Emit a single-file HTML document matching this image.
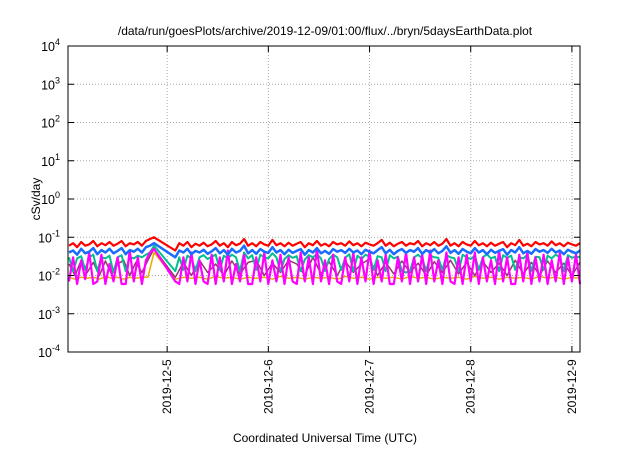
<!DOCTYPE html>
<html><head><meta charset="utf-8"><style>
body{margin:0;background:#fff}
svg{font-family:"Liberation Sans",sans-serif}
</style></head><body>
<svg id="c" width="640" height="448" xmlns="http://www.w3.org/2000/svg">
<text x="325" y="35" font-size="12" text-anchor="middle">/data/run/goesPlots/archive/2019-12-09/01:00/flux/../bryn/5daysEarthData.plot</text>
<text x="325" y="442" font-size="12" text-anchor="middle">Coordinated Universal Time (UTC)</text>
<text transform="translate(40,199) rotate(-90)" font-size="12" text-anchor="middle">cSv/day</text>
<g id="grid"></g>
<g id="series"></g>
<rect x="68" y="46" width="512" height="306" fill="none" stroke="#000" stroke-width="1"/>
<g id="axes"></g>
</svg>
<script>
const timesCoarse=[4.03,4.09,4.15,4.21,4.27,4.33,4.39,4.45,4.51,4.57,4.63,4.69,4.75,4.81,4.87,
5.08,5.16,5.24,5.32,5.40,5.48,5.56,5.64,5.72,5.80,5.88,5.96,6.04,6.12,6.20,6.28,6.36,6.44,6.52,6.60,6.68,6.76,6.84,6.92,7.00,7.08,7.16,7.24,7.32,7.40,7.48,7.56,7.64,7.72,7.80,7.88,7.96,8.04,8.12,8.20,8.28,8.36,8.44,8.52,8.60,8.68,8.76,8.84,8.92,9.00,9.08];
const timesDense=[4.03,4.07,4.11,4.15,4.19,4.23,4.27,4.31,4.35,4.39,4.43,4.47,4.51,4.55,4.59,4.63,4.67,4.71,4.75,4.79,4.83,4.87,
5.08,5.12,5.16,5.20,5.24,5.28,5.32,5.36,5.40,5.44,5.48,5.52,5.56,5.60,5.64,5.68,5.72,5.76,5.80,5.84,5.88,5.92,5.96,6.00,
6.04,6.08,6.12,6.16,6.20,6.24,6.28,6.32,6.36,6.40,6.44,6.48,6.52,6.56,6.60,6.64,6.68,6.72,6.76,6.80,6.84,6.88,6.92,6.96,7.00,
7.04,7.08,7.12,7.16,7.20,7.24,7.28,7.32,7.36,7.40,7.44,7.48,7.52,7.56,7.60,7.64,7.68,7.72,7.76,7.80,7.84,7.88,7.92,7.96,8.00,
8.04,8.08,8.12,8.16,8.20,8.24,8.28,8.32,8.36,8.40,8.44,8.48,8.52,8.56,8.60,8.64,8.68,8.72,8.76,8.80,8.84,8.88,8.92,8.96,9.00,9.04,9.08];
const red=[.06,.07,.055,.075,.06,.065,.08,.058,.07,.062,.075,.06,.068,.08,.058,.07,.065,.075,.06,.08,.09,.1,
.045,.07,.06,.075,.055,.068,.06,.072,.058,.065,
.08,.06,.07,.055,.075,.062,.068,.09,.06,.07,
.058,.075,.065,.06,.085,.062,.07,.058,.072,.06,
.068,.075,.055,.07,.062,.08,.06,.068,.058,.075,
.065,.07,.06,.078,.062,.07,.058,.072,.065,.06,
.07,.085,.06,.072,.058,.068,.075,.06,.07,.065,
.08,.058,.07,.062,.075,.06,.068,.09,.06,.07,
.058,.075,.065,.06,.08,.062,.07,.058,.072,.06,
.068,.075,.055,.07,.062,.085,.06,.068,.058,.075,
.065,.07,.06,.078,.062,.07,.058,.072,.065,.06,
.07];
const blue=[.04,.045,.035,.05,.038,.042,.052,.036,.046,.04,.05,.038,.044,.052,.036,.046,.042,.05,.04,.055,.06,.07,
.03,.045,.04,.05,.036,.044,.04,.047,.037,.043,
.052,.038,.046,.035,.05,.04,.044,.06,.038,.046,
.037,.049,.042,.039,.055,.04,.046,.036,.047,.039,
.044,.049,.035,.046,.04,.052,.038,.044,.037,.049,
.042,.046,.039,.05,.04,.045,.036,.047,.042,.038,
.046,.055,.038,.047,.036,.044,.049,.039,.046,.042,
.052,.037,.046,.04,.049,.038,.044,.058,.039,.046,
.037,.049,.042,.038,.052,.04,.046,.036,.047,.039,
.044,.049,.035,.046,.04,.055,.038,.044,.037,.049,
.042,.046,.039,.05,.04,.045,.036,.047,.042,.038,
.045];
const teal=[.03,.013,.028,.032,.014,.03,.035,.013,.03,.028,.033,.012,.03,.034,.013,.03,.028,.033,.03,.035,.04,.06,
.013,.03,.014,.033,.028,.013,.03,.034,.027,.031,
.035,.014,.033,.028,.035,.03,.013,.04,.028,.034,
.014,.035,.03,.028,.038,.03,.013,.027,.034,.029,
.032,.013,.026,.034,.03,.036,.028,.013,.027,.035,
.03,.014,.029,.036,.013,.033,.027,.035,.031,.014,
.032,.03,.013,.034,.028,.031,.013,.012,.013,.03,
.035,.028,.013,.033,.03,.029,.014,.034,.03,.028,
.013,.035,.03,.027,.033,.014,.03,.036,.028,.031,
.013,.034,.029,.033,.014,.03,.028,.035,.013,.031,
.03,.014,.033,.028,.035,.03,.013,.034,.029,.031,
.03];
const magenta=[.007,.03,.006,.025,.008,.04,.006,.007,.035,.006,.02,.007,.03,.006,.006,.045,.007,.03,.006,.025,.04,.05,
.007,.006,.03,.007,.04,.006,.025,.007,.006,.035,
.006,.03,.007,.045,.006,.02,.007,.035,.006,.006,
.03,.007,.04,.006,.025,.007,.035,.006,.03,.007,
.006,.04,.007,.03,.006,.05,.007,.025,.006,.035,
.007,.006,.03,.007,.04,.006,.03,.007,.045,.006,
.025,.007,.035,.006,.006,.03,.007,.04,.006,.03,
.007,.035,.006,.045,.007,.025,.006,.04,.007,.006,
.03,.006,.035,.007,.04,.006,.03,.007,.025,.006,
.045,.007,.03,.006,.006,.035,.007,.04,.006,.03,
.007,.035,.006,.025,.007,.04,.006,.03,.007,.035,
.006];
const purple=[.02,.01,.025,.012,.022,.01,.024,.011,.02,.025,.01,.022,.012,.025,.05,
.009,.022,.01,.025,.012,.02,.01,.024,.011,.022,.025,.01,.021,.012,.025,.02,.01,.03,.011,.023,.01,.024,.012,.02,.027,.01,.022,.011,.024,.012,.021,.01,.023,.012,.025,.011,.022,.01,.023,.012,.021,.01,.025,.011,.022,.01,.024,.012,.021,.01,.022];
const yellow=[.009,.008,.009,.0085,.009,.008,.0095,.0085,.009,.008,.009,.0085,.009,.009,.04,
.008,.009,.0085,.009,.008,.0095,.0085,.009,.008,.009,.0085,.009,.008,.0095,.0085,.009,.008,.009,.0085,.009,.008,.0095,.0085,.009,.008,.009,.0085,.009,.008,.0095,.0085,.009,.008,.009,.0085,.009,.008,.0095,.0085,.009,.008,.009,.0085,.009,.008,.0095,.0085,.009,.008,.009,.0085];
const yTickExps=[-4,-3,-2,-1,0,1,2,3,4];
const xTickDays=[5,6,7,8,9];
const xTickLabels=["2019-12-5","2019-12-6","2019-12-7","2019-12-8","2019-12-9"];

const L=68,R=580,T=46,B=352,X0=4.02,X1=9.08,Y0=-4,Y1=4;
const NS="http://www.w3.org/2000/svg";
function xs(d){return L+(d-X0)/(X1-X0)*(R-L);}
function ys(v){return B-(Math.log10(v)-Y0)/(Y1-Y0)*(B-T);}
function mk(tag,attrs,parent){const e=document.createElementNS(NS,tag);for(const k in attrs)e.setAttribute(k,attrs[k]);parent.appendChild(e);return e;}
const grid=document.getElementById('grid'),axes=document.getElementById('axes'),ser=document.getElementById('series');
yTickExps.forEach(ex=>{
  const y=ys(Math.pow(10,ex));
  if(ex>Y0&&ex<Y1){const g=mk('line',{x1:L,x2:R,y1:y,y2:y,stroke:'#aaa','stroke-dasharray':'1,2'},grid);
  
  }
  const t1=mk('line',{x1:L,x2:L+6,y1:y,y2:y,stroke:'#000'},axes);
  
  
  const t2=mk('line',{x1:R-6,x2:R,y1:y,y2:y,stroke:'#000'},axes);
  
  
  const tx=mk('text',{x:L-8,y:y+5,'font-size':'12.5','text-anchor':'end'},axes);
  
  
  tx.innerHTML='10<tspan dy="-6" font-size="9">'+ex+'</tspan>';
});
xTickDays.forEach((d,i)=>{
  const x=xs(d);
  const g=mk('line',{x1:x,x2:x,y1:T,y2:B,stroke:'#aaa','stroke-dasharray':'1,2'},grid);
  
  
  const t=mk('line',{x1:x,x2:x,y1:B-6,y2:B,stroke:'#000'},axes);
  
  
  const t2=mk('line',{x1:x,x2:x,y1:T,y2:T+6,stroke:'#000'},axes);
  
  
  const tx=mk('text',{transform:'translate('+(x+4)+','+(B+62)+') rotate(-90)','font-size':'12'},axes);
  
  
  tx.textContent=xTickLabels[i];
});
const seriesList=[
 ['yellow-series',yellow,timesCoarse,'#e0b000',1.5],
 ['purple-series',purple,timesCoarse,'#8b3a6a',1.5],
 ['teal-series',teal,timesDense,'#00c090',2],
 ['magenta-series',magenta,timesDense,'#ff00ff',2.2],
 ['red-series',red,timesDense,'#ff0000',2.2],
 ['blue-series',blue,timesDense,'#1a6cff',2.5]];
seriesList.forEach(s=>{
  const [name,vals,tt,col,w]=s;
  let d='';
  vals.forEach((v,i)=>{if(tt[i]===undefined)return;d+=(i?'L':'M')+xs(tt[i]).toFixed(1)+','+ys(v).toFixed(1);});
  const p=mk('path',{d:d,fill:'none',stroke:col,'stroke-width':w,'stroke-linejoin':'round'},ser);
  
  
});
</script>
</body></html>
